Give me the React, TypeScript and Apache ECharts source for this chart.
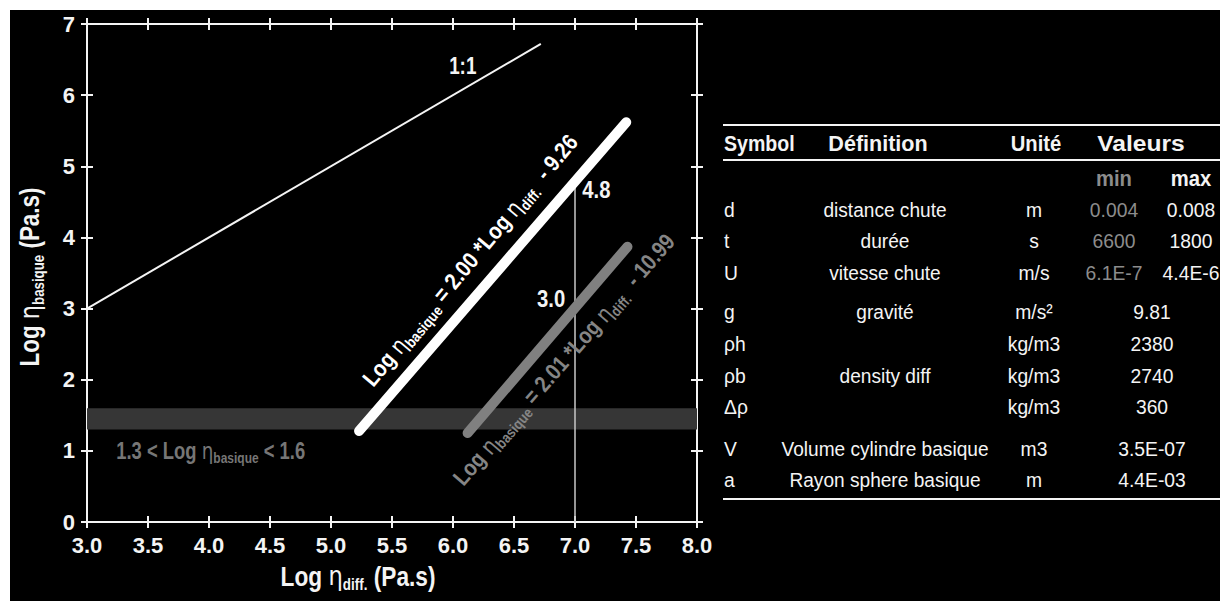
import React, { useEffect, useRef } from "react";
import * as echarts from "echarts";

const FONT = "'Liberation Sans', Arial, sans-serif";
const ETA_FONT = "'DejaVu Sans', sans-serif";

// Axis ranges
const X_MIN = 3;
const X_MAX = 8;
const X_STEP = 0.5;
const Y_MIN = 0;
const Y_MAX = 7;
const Y_STEP = 1;

// Lines (Log eta_diff, Log eta_basique)
const oneToOne = [[3.0, 3.0], [6.72, 6.72]];
const fitWhite = [[5.23, 1.28], [7.42, 5.62]];
const fitGray = [[6.12, 1.25], [7.43, 3.87]];
const bandRange = [1.3, 1.6];
const markerX = 7.0;
const markerTop = 4.76;

// Annotation texts
const labelOneToOne = "1:1";
const labelMarkHigh = "4.8";
const labelMarkLow = "3.0";
const eqWhite = "{b|Log }{eta|η}{sub|basique}{b| = 2.00 *Log }{eta|η}{sub|diff.}{b|  - 9.26}";
const eqGray = "{b|Log }{eta|η}{sub|basique}{b| = 2.01 *Log }{eta|η}{sub|diff.}{b|  - 10.99}";
const bandText = "{b|1.3 < Log }{eta|η}{sub|basique}{b| < 1.6}";
const xTitle = "{b|Log }{eta|η}{sub|diff.}{b| (Pa.s)}";
const yTitle = "{b|Log }{eta|η}{sub|basique}{b| (Pa.s)}";

// Table contents
const tableHeaders = ["Symbol", "Définition", "Unité", "Valeurs"];
const subHeaders = ["min", "max"];
const symbols = ["d", "t", "U", "g", "ρh", "ρb", "Δρ", "V", "a"];
const definitions = ["distance chute", "durée", "vitesse chute", "gravité", "", "density diff", "", "Volume cylindre basique", "Rayon sphere basique"];
const units = ["m", "s", "m/s", "m/s²", "kg/m3", "kg/m3", "kg/m3", "m3", "m"];
const minValues = ["0.004", "6600", "6.1E-7"];
const maxValues = ["0.008", "1800", "4.4E-6"];
const singleValues = ["9.81", "2380", "2740", "360", "3.5E-07", "4.4E-03"];

const WHITE = "#f4f4f4";
const GRAY = "#858585";

const rich = (size: number, sub: number, color: string) => ({
  b: { fontFamily: FONT, fontWeight: "bold", fontSize: size, fill: color, color, lineHeight: size + 6, verticalAlign: "middle" },
  eta: { fontFamily: ETA_FONT, fontWeight: "normal", fontSize: size, fill: color, color, lineHeight: size + 6, verticalAlign: "middle" },
  sub: { fontFamily: FONT, fontWeight: "bold", fontSize: sub, fill: color, color, lineHeight: sub, verticalAlign: "bottom" },
});

function makeAxis(kind: "x" | "y", position: string, inside: boolean, main: boolean) {
  const isX = kind === "x";
  return {
    type: "value",
    position,
    min: isX ? X_MIN : Y_MIN,
    max: isX ? X_MAX : Y_MAX,
    interval: isX ? X_STEP : Y_STEP,
    axisLine: { show: !inside, onZero: false, lineStyle: { color: WHITE, width: 2 } },
    axisTick: { show: true, inside, length: 6, lineStyle: { color: WHITE, width: 2 } },
    axisLabel: main
      ? {
          show: true,
          color: WHITE,
          fontFamily: FONT,
          fontWeight: "bold",
          fontSize: 22,
          margin: 12,
          formatter: (v: number) => (isX ? v.toFixed(1) : String(v)),
        }
      : { show: false },
    splitLine: { show: false },
  };
}

export default function App() {
  const ref = useRef<HTMLDivElement>(null);
  useEffect(() => {
    if (!ref.current) return;
    const chart = echarts.init(ref.current, undefined, { renderer: "svg" });

    const option: any = {
      animation: false,
      backgroundColor: "transparent",
      grid: { left: 87, right: 527, top: 24, bottom: 79, containLabel: false },
      xAxis: [
        makeAxis("x", "bottom", false, true),
        makeAxis("x", "bottom", true, false),
        makeAxis("x", "top", false, false),
        makeAxis("x", "top", true, false),
      ],
      yAxis: [
        makeAxis("y", "left", false, true),
        makeAxis("y", "left", true, false),
        makeAxis("y", "right", false, false),
        makeAxis("y", "right", true, false),
      ],
      series: [
        {
          type: "line",
          data: [],
          z: 1,
          silent: true,
          markArea: {
            silent: true,
            itemStyle: { color: "#363636" },
            data: [[{ xAxis: X_MIN, yAxis: bandRange[0] }, { xAxis: X_MAX, yAxis: bandRange[1] }]],
          },
        },
        {
          type: "line",
          data: [[markerX, 0], [markerX, markerTop]],
          symbol: "none",
          z: 2,
          lineStyle: { color: "#c8c8c8", width: 1.5 },
        },
        {
          type: "line",
          data: oneToOne,
          symbol: "none",
          z: 3,
          lineStyle: { color: WHITE, width: 2 },
        },
        {
          type: "line",
          data: fitGray,
          symbol: "none",
          z: 3,
          lineStyle: { color: "#808080", width: 10, cap: "round" },
        },
        {
          type: "line",
          data: fitWhite,
          symbol: "none",
          z: 4,
          lineStyle: { color: "#ffffff", width: 10, cap: "round" },
        },
      ],
    };
    chart.setOption(option);

    const px = (x: number, y: number) => chart.convertToPixel({ xAxisIndex: 0, yAxisIndex: 0 }, [x, y]) as number[];

    const graphics: any[] = [];
    const T = (text: string, x: number, y: number, align: string, fill: string, bold: boolean, sx = 0.92, size = 21) => {
      graphics.push({
        type: "text",
        x,
        y,
        z: 100,
        scaleX: sx,
        style: {
          text,
          fill,
          font: `${bold ? "bold " : ""}${size}px ${FONT}`,
          textAlign: align,
          align,
          textVerticalAlign: "middle",
          verticalAlign: "middle",
        },
      });
    };
    const R = (text: string, x: number, y: number, align: string, r: any, sx: number, rotDeg: number) => {
      graphics.push({
        type: "text",
        x,
        y,
        z: 100,
        scaleX: sx,
        rotation: (rotDeg * Math.PI) / 180,
        style: {
          text,
          rich: r,
          textAlign: align,
          align,
          textVerticalAlign: "middle",
          verticalAlign: "middle",
        },
      });
    };
    const L = (y: number) => {
      graphics.push({ type: "line", z: 100, shape: { x1: 723, y1: y, x2: 1220, y2: y }, style: { stroke: WHITE, lineWidth: 2 } });
    };

    // Chart annotations
    const pW = px(6.14, 3.68);
    R(eqWhite, pW[0], pW[1], "center", rich(23, 15, "#ffffff"), 0.87, 50);
    const pG = px(6.91, 2.28);
    R(eqGray, pG[0], pG[1], "center", rich(23, 15, GRAY), 0.85, 49);
    const pB = px(3.24, 1.0);
    R(bandText, pB[0], pB[1], "left", rich(23, 15, "#767676"), 0.8, 0);
    const p11 = px(6.08, 6.41);
    T(labelOneToOne, p11[0], p11[1], "center", WHITE, true, 0.82, 23);
    const pH = px(7.06, 4.67);
    T(labelMarkHigh, pH[0], pH[1], "left", WHITE, true, 0.88, 23);
    const pL = px(6.92, 3.13);
    T(labelMarkLow, pL[0], pL[1], "right", WHITE, true, 0.88, 23);
    // Axis titles
    R(xTitle, 358, 576, "center", rich(27, 16, WHITE), 0.84, 0);
    R(yTitle, 30, 277, "center", rich(27, 16, WHITE), 0.83, 90);

    // Table
    L(125);
    L(160);
    L(499);
    const colSym = 724;
    const colDef = 885;
    const colUnit = 1034;
    const colMin = 1114;
    const colMax = 1191;
    const colVal = 1152;
    T(tableHeaders[0], colSym, 143, "left", WHITE, true, 0.89, 22);
    T(tableHeaders[1], 878, 143, "center", WHITE, true, 0.98, 22);
    T(tableHeaders[2], 1036, 143, "center", WHITE, true, 0.92, 22);
    T(tableHeaders[3], 1141, 143, "center", WHITE, true, 1.12, 22);
    T(subHeaders[0], colMin, 178, "center", "#8c8c8c", true, 0.92, 22);
    T(subHeaders[1], colMax, 178, "center", WHITE, true, 0.92, 22);
    const rowY = [210, 241, 273, 312, 344, 376, 407, 449, 480];
    symbols.forEach((s, i) => {
      T(s, colSym, rowY[i], "left", WHITE, false);
      if (definitions[i]) T(definitions[i], colDef, rowY[i], "center", WHITE, false, 0.91);
      T(units[i], colUnit, rowY[i], "center", WHITE, false);
      if (i < minValues.length) {
        T(minValues[i], colMin, rowY[i], "center", "#8c8c8c", false);
        T(maxValues[i], colMax, rowY[i], "center", WHITE, false);
      } else {
        T(singleValues[i - minValues.length], colVal, rowY[i], "center", WHITE, false);
      }
    });

    chart.setOption({ graphic: graphics });
    return () => chart.dispose();
  }, []);

  return (
    <div style={{ position: "fixed", left: 0, top: 0, width: 1224, height: 601, background: "#fff" }}>
      <div style={{ position: "absolute", left: 10, top: 10, width: 1210, height: 591, background: "#000" }} />
      <div ref={ref} style={{ position: "absolute", left: 0, top: 0, width: 1224, height: 601 }} />
    </div>
  );
}
